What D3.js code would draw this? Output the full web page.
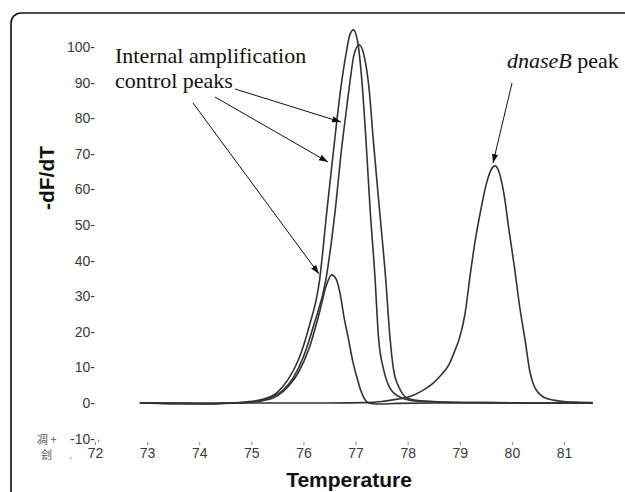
<!DOCTYPE html>
<html>
<head>
<meta charset="utf-8">
<script src="https://d3js.org/d3.v7.min.js"></script>
<style>
body { margin: 0; background: #ffffff; }
</style>
</head>
<body>
<div class="graph"></div>
<script>

// data (temperature, -dF/dT)

var iacTallT = [72.86, 73.5, 74.2, 74.6, 74.9, 75.2, 75.5, 75.7, 75.9, 76.1, 76.31, 76.45, 76.6, 76.72, 76.82, 76.89, 76.96, 77.05, 77.12, 77.2, 77.28, 77.37, 77.44, 77.54, 77.66, 77.85, 78.14, 78.6, 79.5, 80.5, 81.55];
var iacTallV = [0, -0.2, -0.2, 0, 0.3, 1, 3, 6.5, 12, 21, 34.6, 54, 74, 88.8, 98.3, 103.4, 104.8, 100.6, 90.7, 73.9, 54.2, 36, 18.5, 9.3, 4.2, 1.7, 0.6, 0.3, 0.1, 0, 0];

var iacSecondT = [72.86, 73.5, 74.2, 74.6, 75.0, 75.3, 75.6, 75.8, 76.0, 76.2, 76.43, 76.61, 76.74, 76.8, 76.88, 76.97, 77.07, 77.16, 77.26, 77.34, 77.46, 77.58, 77.66, 77.73, 77.84, 77.99, 78.24, 78.7, 79.5, 80.5, 81.55];
var iacSecondV = [0, -0.1, -0.2, 0, 0.3, 1.2, 3.5, 7, 13, 22, 34.6, 54.2, 72.5, 79.5, 88.8, 97.8, 100.6, 97.8, 88.2, 73.9, 54.2, 34.6, 18.5, 9.3, 4.2, 1.4, 0.6, 0.3, 0.1, 0, 0];

var iacSmallT = [72.86, 73.5, 74.2, 74.8, 75.2, 75.5, 75.7, 75.9, 76.1, 76.3, 76.45, 76.54, 76.62, 76.70, 76.78, 76.85, 76.95, 77.03, 77.1, 77.18, 77.25, 77.4, 77.8, 78.5, 79.5, 80.5, 81.55];
var iacSmallV = [0, -0.1, -0.2, 0.1, 0.6, 2, 4.5, 8.5, 15, 25, 33.5, 36, 35, 31, 24, 19, 11.5, 7, 3.5, 1, 0, -0.3, -0.1, 0, 0, 0, 0];

var dnaseT = [72.86, 74, 75.5, 76.5, 77.2, 77.5, 77.85, 78.0, 78.25, 78.49, 78.65, 78.8, 78.9, 79.0, 79.1, 79.2, 79.3, 79.4, 79.5, 79.6, 79.68, 79.75, 79.85, 79.95, 80.05, 80.15, 80.25, 80.35, 80.42, 80.5, 80.6, 80.8, 81.0, 81.3, 81.55];
var dnaseV = [0, 0, 0, 0, 0.1, 0.4, 1.2, 1.6, 3.2, 5.6, 8, 11, 14.5, 18.5, 25, 36, 46, 54, 61, 65.5, 66.6, 65, 58.5, 48, 38, 27, 18, 8.5, 5, 3, 1.7, 0.8, 0.4, 0.2, 0.1];

var xTicks = [72, 73, 74, 75, 76, 77, 78, 79, 80, 81];
var yTicks = [-10, 0, 10, 20, 30, 40, 50, 60, 70, 80, 90, 100];

var svgWidth = 625;
var svgHeight = 492;

var svg = d3.select("div.graph")
		.append("svg")
		.attr("width", svgWidth)
		.attr("height", svgHeight)
		.style("display", "block");

// frame
svg.append("rect")
	.attr("x", 11).attr("y", 13)
	.attr("width", 700).attr("height", 560)
	.attr("rx", 10)
	.attr("fill", "none")
	.attr("stroke", "#111")
	.attr("stroke-width", 1.6);

var x = d3.scaleLinear().domain([72, 81]).range([95, 564]);
var y = d3.scaleLinear().domain([0, 100]).range([403, 47]);

// axes
var yAxis = d3.axisLeft(y)
	.tickValues(yTicks)
	.tickSize(0)
	.tickPadding(0)
	.tickFormat(function(d) { return d + "-"; });

var gY = svg.append("g").attr("transform", "translate(95,0)").call(yAxis);
gY.select(".domain").remove();
gY.selectAll("text")
	.attr("font-family", "Arial, 'Liberation Sans', sans-serif")
	.attr("font-size", 14)
	.attr("fill", "#3a3a3a");

var xAxis = d3.axisBottom(x)
	.tickValues(xTicks)
	.tickSize(3)
	.tickPadding(3);

var gX = svg.append("g").attr("transform", "translate(0,442)").call(xAxis);
gX.select(".domain").remove();
gX.selectAll("line").attr("stroke", "#888");
gX.selectAll("text")
	.attr("font-family", "Arial, 'Liberation Sans', sans-serif")
	.attr("font-size", 14)
	.attr("fill", "#3a3a3a");

// odd leftover glyphs near the -10 label
svg.append("text").attr("x", 37).attr("y", 444)
	.attr("font-family", "'Noto Sans CJK SC', sans-serif").attr("font-size", 11)
	.attr("fill", "#555").text("凋 +");
svg.append("text").attr("x", 97).attr("y", 441)
	.attr("font-family", "Arial, sans-serif").attr("font-size", 11)
	.attr("fill", "#555").text(",");
svg.append("text").attr("x", 41).attr("y", 459)
	.attr("font-family", "'Noto Sans CJK SC', sans-serif").attr("font-size", 11)
	.attr("fill", "#555").text("刽");
svg.append("text").attr("x", 69).attr("y", 459)
	.attr("font-family", "Arial, sans-serif").attr("font-size", 12)
	.attr("fill", "#888").text(".");

// titles
svg.append("text")
	.attr("transform", "translate(54,178) rotate(-90)")
	.attr("text-anchor", "middle")
	.attr("font-family", "Arial, 'Liberation Sans', sans-serif")
	.attr("font-weight", "bold")
	.attr("font-size", 21)
	.attr("fill", "#111")
	.text("-dF/dT");

svg.append("text")
	.attr("x", 349).attr("y", 487)
	.attr("text-anchor", "middle")
	.attr("font-family", "Arial, 'Liberation Sans', sans-serif")
	.attr("font-weight", "bold")
	.attr("font-size", 21)
	.attr("fill", "#111")
	.text("Temperature");

// curves
var line = d3.line()
	.x(function(d) { return x(d[0]); })
	.y(function(d) { return y(d[1]); })
	.curve(d3.curveMonotoneX);

var series = [
	d3.zip(iacTallT, iacTallV),
	d3.zip(iacSecondT, iacSecondV),
	d3.zip(iacSmallT, iacSmallV),
	d3.zip(dnaseT, dnaseV)
];

svg.append("g").selectAll("path")
	.data(series)
	.enter()
	.append("path")
	.attr("d", line)
	.attr("fill", "none")
	.attr("stroke", "#333")
	.attr("stroke-width", 1.6)
	.attr("stroke-linejoin", "round");

// annotations
svg.append("defs").append("marker")
	.attr("id", "head")
	.attr("viewBox", "0 0 10 10")
	.attr("refX", 10).attr("refY", 5)
	.attr("markerWidth", 9).attr("markerHeight", 9)
	.attr("markerUnits", "userSpaceOnUse")
	.attr("orient", "auto")
	.append("path")
	.attr("d", "M0,1.5 L10,5 L0,8.5 Z")
	.attr("fill", "#111");

var note = svg.append("text")
	.attr("font-family", "'Times New Roman', 'Liberation Serif', serif")
	.attr("font-size", 22)
	.attr("fill", "#111");
note.append("tspan").attr("x", 115).attr("y", 63).text("Internal amplification");
note.append("tspan").attr("x", 115).attr("y", 88).text("control peaks");

var arrows = [
	[235, 89, 341, 122],
	[215, 97, 328, 162],
	[193, 103, 319, 274],
	[512, 83, 493, 163]
];

svg.append("g").selectAll("line")
	.data(arrows)
	.enter()
	.append("line")
	.attr("x1", function(d) { return d[0]; })
	.attr("y1", function(d) { return d[1]; })
	.attr("x2", function(d) { return d[2]; })
	.attr("y2", function(d) { return d[3]; })
	.attr("stroke", "#111")
	.attr("stroke-width", 1)
	.attr("marker-end", "url(#head)");

var note2 = svg.append("text")
	.attr("x", 507).attr("y", 68)
	.attr("font-family", "'Times New Roman', 'Liberation Serif', serif")
	.attr("font-size", 22)
	.attr("fill", "#111");
note2.append("tspan").attr("font-style", "italic").text("dnaseB");
note2.append("tspan").text(" peak");

</script>
</body>
</html>
